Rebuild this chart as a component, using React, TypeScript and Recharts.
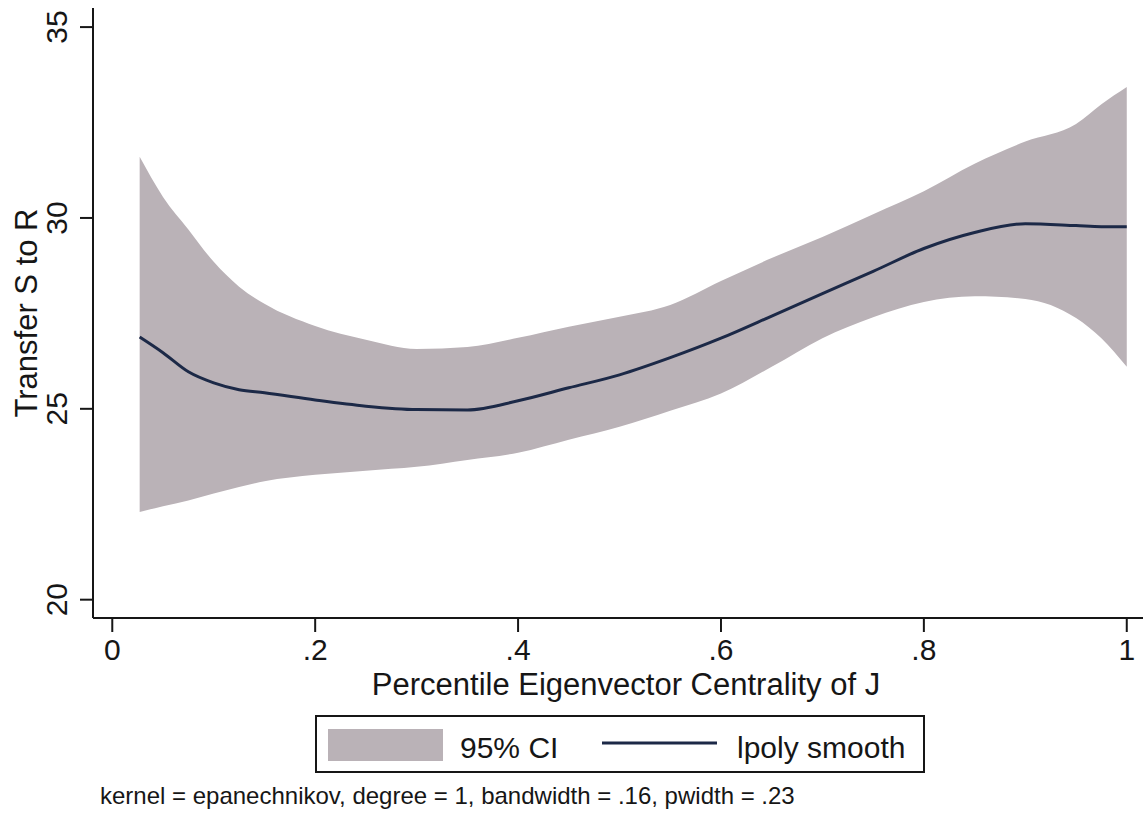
import { ComposedChart, Area, Line, XAxis, YAxis, Legend, Customized } from "recharts";

// local polynomial fit of transfers on eigenvector-centrality percentile
const xs = [0.027, 0.05, 0.075, 0.1, 0.125, 0.15, 0.2, 0.25, 0.3, 0.35, 0.4, 0.45, 0.5, 0.55, 0.6, 0.65, 0.7, 0.75, 0.8, 0.85, 0.9, 0.95, 0.975, 1.0];
const ciLower = [22.3, 22.45, 22.6, 22.78, 22.95, 23.1, 23.27, 23.38, 23.48, 23.66, 23.85, 24.19, 24.53, 24.95, 25.4, 26.1, 26.85, 27.4, 27.8, 27.95, 27.88, 27.38, 26.85, 26.1];
const ciUpper = [31.6, 30.55, 29.7, 28.85, 28.2, 27.75, 27.17, 26.81, 26.57, 26.62, 26.86, 27.15, 27.41, 27.72, 28.35, 28.95, 29.5, 30.1, 30.7, 31.42, 32.0, 32.46, 32.98, 33.43];
const smooth = [26.88, 26.47, 25.97, 25.68, 25.5, 25.42, 25.23, 25.07, 24.98, 24.97, 25.21, 25.55, 25.89, 26.34, 26.85, 27.43, 28.02, 28.6, 29.2, 29.62, 29.85, 29.8, 29.77, 29.77];

const xTicks = [0, 0.2, 0.4, 0.6, 0.8, 1];
const yTicks = [20, 25, 30, 35];

const BAND = "#bab2b7";
const LINE = "#1c2947";
const INK = "#161616";
const FONT = "'Liberation Sans', Arial, Helvetica, sans-serif";

const rows = xs.map((x, i) => ({ x, ci: [ciLower[i], ciUpper[i]], fit: smooth[i] }));

// Stata style: 0 and 1 stay whole, fractions drop the leading zero
const fmtX = (v: number) => (v === 0 || v === 1 ? String(v) : String(v).replace(/^0/, ""));

function XTick({ x, y, payload }: any) {
  return (
    <text x={x} y={y + 28} textAnchor="middle" fontSize={30} fill={INK} fontFamily={FONT}>
      {fmtX(payload.value)}
    </text>
  );
}

function YTick({ x, y, payload }: any) {
  const bx = x - 13;
  return (
    <text x={bx} y={y} transform={`rotate(-90 ${bx} ${y})`} textAnchor="middle" fontSize={30} fill={INK} fontFamily={FONT}>
      {payload.value}
    </text>
  );
}

function XTitle({ viewBox }: any) {
  const cx = viewBox.x + viewBox.width / 2 + 8;
  return (
    <text x={cx} y={viewBox.y + 77} textAnchor="middle" fontSize={31} fill={INK} fontFamily={FONT}>
      Percentile Eigenvector Centrality of J
    </text>
  );
}

function YTitle({ viewBox }: any) {
  const cx = 37;
  const cy = viewBox.y + viewBox.height / 2;
  return (
    <text x={cx} y={cy} transform={`rotate(-90 ${cx} ${cy})`} textAnchor="middle" fontSize={31} fill={INK} fontFamily={FONT}>
      Transfer S to R
    </text>
  );
}

function LegendBox() {
  return (
    <svg width={610} height={58} style={{ display: "block" }}>
      <rect x={1} y={1} width={608} height={56} fill="#fff" stroke={INK} strokeWidth={2} />
      <rect x={13} y={14} width={115} height={32} fill={BAND} />
      <text x={145} y={43} fontSize={30} fill={INK} fontFamily={FONT}>95% CI</text>
      <line x1={287} x2={402} y1={28} y2={28} stroke={LINE} strokeWidth={3} />
      <text x={422} y={43} fontSize={30} fill={INK} fontFamily={FONT}>lpoly smooth</text>
    </svg>
  );
}

function Note() {
  return (
    <text x={100} y={804} fontSize={24} fill={INK} fontFamily={FONT}>
      kernel = epanechnikov, degree = 1, bandwidth = .16, pwidth = .23
    </text>
  );
}

export default function App() {
  return (
    <div style={{ position: "absolute", left: 0, top: 0, width: 1143, height: 820, background: "#fff" }}>
      <ComposedChart width={1143} height={820} data={rows} margin={{ top: 8, right: 0, left: 0, bottom: 0 }}>
        <XAxis
          dataKey="x"
          type="number"
          domain={[-0.019, 1.016]}
          allowDataOverflow
          ticks={xTicks}
          height={202}
          tickSize={14}
          tickMargin={0}
          axisLine={{ stroke: INK, strokeWidth: 2 }}
          tickLine={{ stroke: INK, strokeWidth: 2 }}
          tick={<XTick />}
          label={<XTitle />}
        />
        <YAxis
          type="number"
          domain={[19.52, 35.5]}
          allowDataOverflow
          ticks={yTicks}
          width={93}
          tickSize={13}
          tickMargin={0}
          axisLine={{ stroke: INK, strokeWidth: 2 }}
          tickLine={{ stroke: INK, strokeWidth: 2 }}
          tick={<YTick />}
          label={<YTitle />}
        />
        <Area
          dataKey="ci"
          type="monotone"
          fill={BAND}
          fillOpacity={1}
          stroke="none"
          isAnimationActive={false}
          legendType="rect"
          name="95% CI"
        />
        <Line
          dataKey="fit"
          type="monotone"
          stroke={LINE}
          strokeWidth={3}
          dot={false}
          isAnimationActive={false}
          name="lpoly smooth"
        />
        <Legend
          layout="vertical"
          align="center"
          verticalAlign="middle"
          content={<LegendBox />}
          wrapperStyle={{ position: "absolute", left: 315, top: 715, width: 610, height: 58 }}
        />
        <Customized component={<Note />} />
      </ComposedChart>
    </div>
  );
}
